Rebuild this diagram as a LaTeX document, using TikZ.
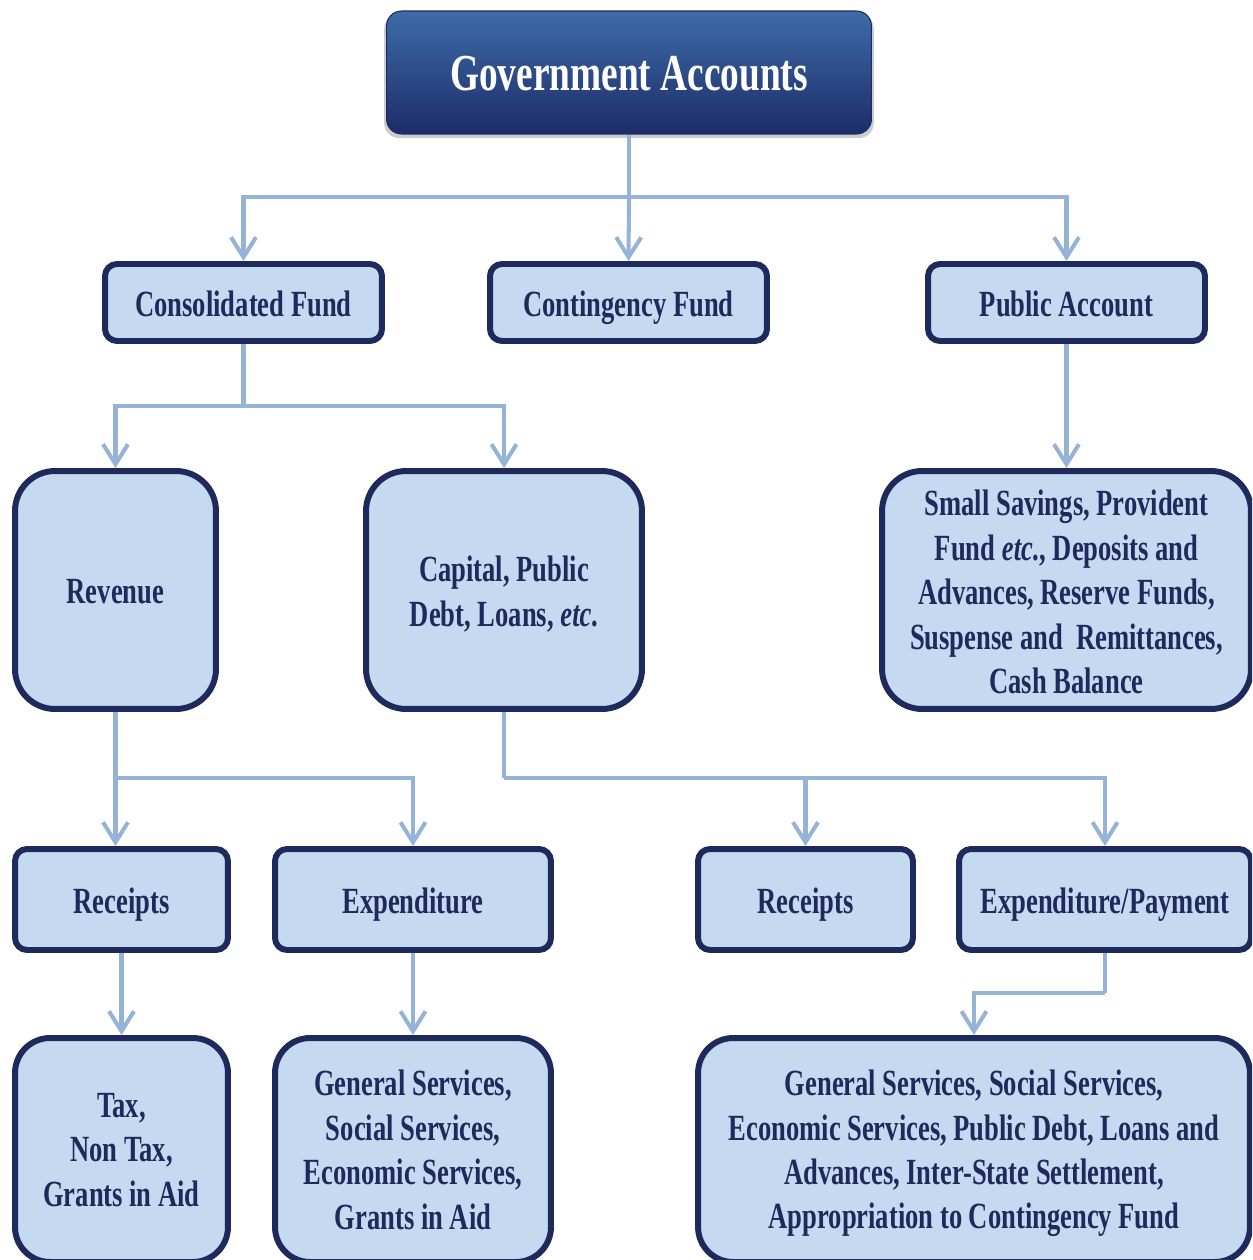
\documentclass[tikz,border=0pt]{standalone}
\usepackage{fontspec}
\setmainfont[FakeStretch=0.72]{Liberation Serif}
\usetikzlibrary{arrows.meta,shadows}
\definecolor{navy}{RGB}{31,42,92}
\definecolor{boxfill}{RGB}{197,217,241}
\definecolor{linkblue}{RGB}{149,179,215}
\definecolor{govtop}{RGB}{62,108,168}
\definecolor{govbot}{RGB}{29,44,104}
\newcommand{\toprule}[1]{\rule{0pt}{#1}}
\tikzset{
  acbox/.style={draw=navy, line width=3.4pt, fill=boxfill, rounded corners=0.24cm,
    text=navy, font=\bfseries\fontsize{21}{25.3}\selectfont, align=center, inner sep=0pt},
  tallbox/.style={acbox, rounded corners=0.8cm},
  oneline/.style={text height=19.7pt, text depth=4pt},
  link/.style={draw=linkblue, line width=2.3pt},
  arr/.style={link, -{Straight Barb[length=4mm,width=5mm,line width=2.3pt]}},
}
\begin{document}
\begin{tikzpicture}[x=0.02cm, y=-0.02cm]
        \useasboundingbox (0,0) rectangle (1252,1260);
        \clip (0,0) rectangle (1252,1260);
        % node
        \node[rounded corners=0.3cm, top color=govtop, bottom color=govbot,
          draw=govbot, line width=0.6pt, minimum width=9.7cm, minimum height=2.46cm,
          drop shadow={shadow xshift=0pt, shadow yshift=-2pt, shadow scale=1.01, opacity=0.4, fill=gray},
          text=white, font=\bfseries\fontsize{29.5}{35}\selectfont, text height=24pt, text depth=3.4pt] (gov) at (629,72.5) {Government Accounts};
        \node[acbox, oneline, minimum width=5.54cm, minimum height=1.54cm] (cons) at (243.5,302.5) {Consolidated Fund};
        \node[acbox, oneline, minimum width=5.54cm, minimum height=1.54cm] (cont) at (628.5,302.5) {Contingency Fund};
        \node[acbox, oneline, minimum width=5.54cm, minimum height=1.54cm] (pub) at (1066.5,302.5) {Public Account};
        \node[tallbox, oneline, minimum width=4.02cm, minimum height=4.76cm] (rev) at (115.5,590) {Revenue};
        \node[tallbox, minimum width=5.52cm, minimum height=4.76cm] (cap) at (504,590) {\toprule{19pt}Capital, Public\\Debt, Loans, \textit{etc}.};
        \node[tallbox, minimum width=7.38cm, minimum height=4.76cm] (small) at (1066.5,590)
          {\toprule{17pt}Small Savings, Provident\\Fund \textit{etc}., Deposits and\\Advances, Reserve Funds,\\Suspense and\ \ Remittances,\\Cash Balance};
        \node[acbox, oneline, minimum width=4.26cm, minimum height=2.02cm] (recL) at (121.5,899.5) {Receipts};
        \node[acbox, oneline, minimum width=5.52cm, minimum height=2.02cm] (exp) at (413,899.5) {Expenditure};
        \node[acbox, oneline, minimum width=4.3cm, minimum height=2.02cm] (recR) at (805.5,899.5) {Receipts};
        \node[acbox, oneline, minimum width=5.84cm, minimum height=2.02cm] (expP) at (1105,899.5) {Expenditure/Payment};
        \node[tallbox, rounded corners=0.7cm, minimum width=4.26cm, minimum height=4.48cm] (tax) at (121.5,1150) {Tax,\\Non Tax,\\Grants in Aid};
        \node[tallbox, rounded corners=0.7cm, minimum width=5.52cm, minimum height=4.48cm] (genL) at (413,1150)
          {General Services,\\Social Services,\\Economic Services,\\Grants in Aid};
        \node[tallbox, rounded corners=0.7cm, minimum width=11.04cm, minimum height=4.48cm] (genR) at (974,1150)
          {\toprule{18.6pt}General Services, Social Services,\\Economic Services, Public Debt, Loans and\\Advances, Inter-State Settlement,\\Appropriation to Contingency Fund};
        % lines
        \coordinate (j1) at (629,197);
        \coordinate (j2) at (243.5,406);
        \coordinate (j3) at (115.5,778);
        \coordinate (j4) at (504,778);
        \coordinate (j5) at (1105,993);
        \draw[link] (gov.south) -- (j1);
        \draw[arr] (j1) -| (cons.north);
        \draw[arr] (j1) -- (cont.north);
        \draw[arr] (j1) -| (pub.north);
        \draw[link] (cons.south) -- (j2);
        \draw[arr] (j2) -| (rev.north);
        \draw[arr] (j2) -| (cap.north);
        \draw[arr] (pub.south) -- (small.north);
        \draw[arr] (rev.south) -- (rev.south |- recL.north);
        \draw[arr] (j3) -| (exp.north);
        \draw[link] (cap.south) -- (j4);
        \draw[arr] (j4) -| (recR.north);
        \draw[arr] (j4) -| (expP.north);
        \draw[arr] (recL.south) -- (tax.north);
        \draw[arr] (exp.south) -- (genL.north);
        \draw[link] (expP.south) -- (j5);
        \draw[arr] (j5) -| (genR.north);
      \end{tikzpicture}
\end{document}
